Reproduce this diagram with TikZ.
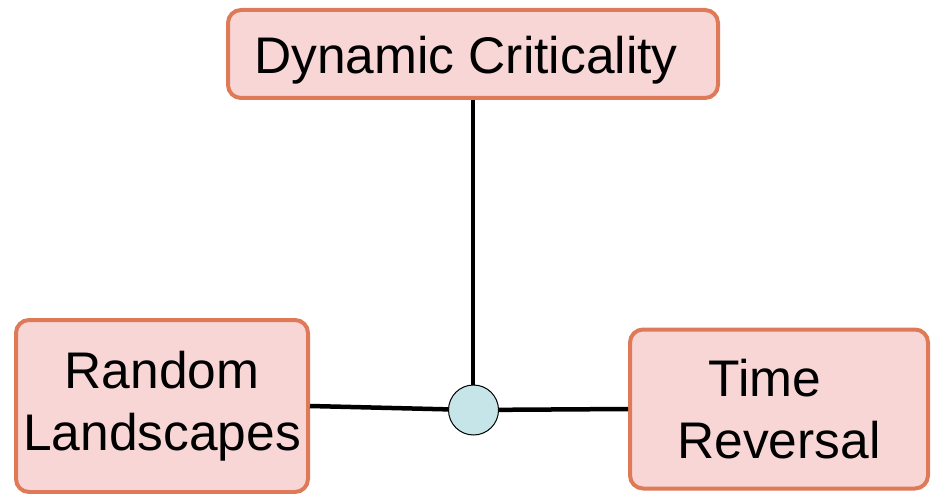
\documentclass[tikz,border=0pt]{standalone}
\usepackage{fontspec}
\setmainfont{Liberation Sans}
\definecolor{boxfill}{HTML}{F8D6D6}
\definecolor{boxedge}{HTML}{DE7A58}
\definecolor{hubfill}{HTML}{C6E5E8}
\begin{document}
\begin{tikzpicture}[x=1pt,y=-1pt,
  topic/.style={draw=boxedge, fill=boxfill, line width=4pt, rounded corners=13pt,
    inner sep=0pt, align=center, font=\fontsize{51.5}{62}\selectfont},
  link/.style={draw=black, line width=4.5pt},
  hubnode/.style={circle, draw=black, line width=1pt, fill=hubfill,
    minimum size=50pt, inner sep=0pt}]
  \useasboundingbox (0,0) rectangle (933,494);

  % three topic boxes
  \node[topic, minimum width=490pt, minimum height=88pt, text height=49pt]
    (dyn) at (473,54) {Dynamic Criticality\kern14pt};
  \node[topic, minimum width=292pt, minimum height=172pt] (rand) at (162,406)
    {Random\\Landscapes};
  \node[topic, minimum width=298pt, minimum height=159pt] (time) at (779,409)
    {Time\kern28pt\\Reversal};

  % junction where the three links meet
  \coordinate (hubc) at (473.5,410);
  \draw[link] (dyn.south) -- (dyn.south |- hubc);
  \draw[link] (rand.east) -- (hubc);
  \draw[link] (time.west) -- (hubc);
  \node[hubnode] (hub) at (hubc) {};
\end{tikzpicture}
\end{document}
